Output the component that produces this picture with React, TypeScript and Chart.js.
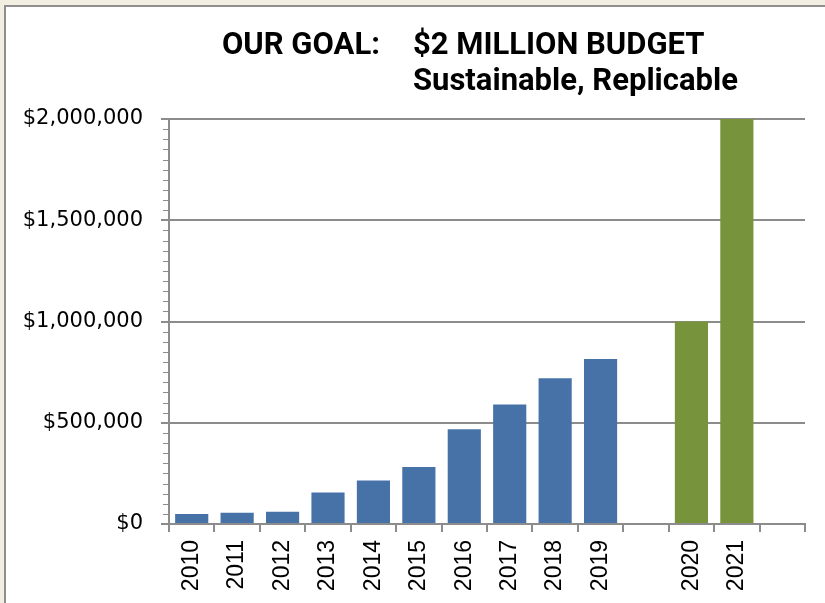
import React, { useEffect, useRef } from "react";
import { Chart, registerables } from "chart.js";

Chart.register(...registerables);

const categories = ["2010", "2011", "2012", "2013", "2014", "2015", "2016", "2017", "2018", "2019", " ", "2020", "2021", "  "];
const actualBudget = [50000, 55000, 60000, 155000, 215000, 282000, 468000, 590000, 720000, 815000, null, null, null, null];
const goalBudget = [null, null, null, null, null, null, null, null, null, null, null, 1000000, 2000000, null];
const yTicks = [0, 500000, 1000000, 1500000, 2000000];
const titleLeft = "OUR GOAL:";
const titleRight = "$2 MILLION BUDGET";
const subtitle = "Sustainable, Replicable";

const minorTicksPlugin = {
  id: "minorTicks",
  afterDraw(chart: any) {
    const y = chart.scales.y;
    const ctx = chart.ctx;
    const left = chart.chartArea.left;
    ctx.save();
    ctx.strokeStyle = "#8c8c8c";
    ctx.lineWidth = 1;
    for (let v = 0; v <= yTicks[yTicks.length - 1]; v += 50000) {
      if (v % 500000 === 0) continue;
      const py = Math.round(y.getPixelForValue(v)) + 0.5;
      ctx.beginPath();
      ctx.moveTo(left - 6, py);
      ctx.lineTo(left, py);
      ctx.stroke();
    }
    ctx.restore();
  },
};

export default function App() {
  const ref = useRef<HTMLCanvasElement>(null);
  useEffect(() => {
    if (!ref.current) return;
    const chart = new Chart(ref.current, {
      type: "bar",
      data: {
        labels: categories,
        datasets: [
          { data: actualBudget as any, backgroundColor: "#4672A7", borderWidth: 0 },
          { data: goalBudget as any, backgroundColor: "#77933C", borderWidth: 0 },
        ],
      },
      options: {
        responsive: false,
        animation: false,
        layout: { padding: { left: 0, right: 20, top: 112, bottom: 0 } },
        plugins: { legend: { display: false }, tooltip: { enabled: false }, title: { display: false } },
        datasets: { bar: { barPercentage: 0.73, categoryPercentage: 1 } },
        scales: {
          x: {
            stacked: true,
            grid: { display: true, drawOnChartArea: false, drawTicks: true, tickLength: 8, color: "#8c8c8c", lineWidth: 2, offset: true },
            border: { display: true, color: "#8c8c8c", width: 2 },
            ticks: { maxRotation: 90, minRotation: 90, autoSkip: false, padding: 8, color: "#000", font: { family: "Liberation Sans", size: 23 } },
            afterFit: (s: any) => { s.height = 79; },
          },
          y: {
            stacked: true,
            min: 0,
            max: 2000000,
            afterBuildTicks: (s: any) => { s.ticks = yTicks.map((v) => ({ value: v })); },
            grid: { color: "#8c8c8c", lineWidth: 2, tickLength: 8, drawTicks: true },
            border: { display: true, color: "#8c8c8c", width: 2 },
            ticks: {
              padding: 18,
              color: "#000",
              font: { family: "DejaVu Sans", size: 21 },
              callback: (v: any) => "$" + Number(v).toLocaleString("en-US"),
            },
            afterFit: (s: any) => { s.width = 163; },
          },
        },
      },
      plugins: [minorTicksPlugin],
    });
    return () => chart.destroy();
  }, []);

  const titleFont: React.CSSProperties = {
    position: "absolute",
    fontFamily: "Roboto",
    fontWeight: 700,
    fontSize: 31,
    lineHeight: "36px",
    color: "#000",
    whiteSpace: "nowrap",
  };

  return (
    <div style={{ position: "absolute", left: 0, top: 0, width: 825, height: 603, background: "#F2EEE1", overflow: "hidden" }}>
      <div style={{ position: "absolute", left: 4, top: 5, width: 821, height: 598, background: "#fff", borderLeft: "2px solid #8f8f8f", borderTop: "2px solid #8f8f8f" }} />
      <canvas ref={ref} width={819} height={596} style={{ position: "absolute", left: 6, top: 7, width: 819, height: 596 }} />
      <div style={{ ...titleFont, left: 222, top: 26 }}>{titleLeft}</div>
      <div style={{ ...titleFont, left: 413, top: 26 }}>{titleRight}</div>
      <div style={{ ...titleFont, left: 413, top: 62 }}>{subtitle}</div>
    </div>
  );
}
